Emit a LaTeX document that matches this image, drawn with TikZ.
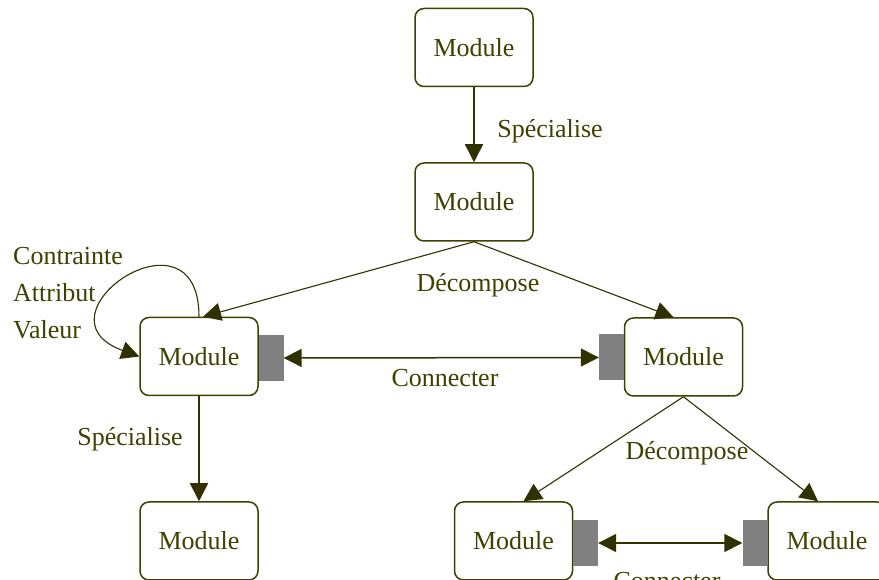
\documentclass[tikz,border=0pt]{standalone}
\usepackage{fontspec}
\setmainfont{Liberation Serif}
\usetikzlibrary{arrows.meta}
\definecolor{olive}{RGB}{64,64,0}
\definecolor{fleche}{RGB}{48,48,0}
\definecolor{port}{RGB}{128,128,128}
\tikzset{
    module/.style={draw=olive, line width=1.5pt, rounded corners=9pt, minimum width=118pt, minimum height=78pt, text=olive, font=\fontsize{26}{31}\selectfont},
    port/.style={fill=port, minimum width=25pt, minimum height=46pt, inner sep=0pt},
    pointe/.tip={Triangle[length=18pt,width=18pt]},
    lien/.style={draw=fleche, line width=1.5pt, -pointe},
    fin/.style={draw=fleche, line width=1.1pt, -pointe},
    etiq/.style={text=olive, font=\fontsize{26}{37}\selectfont, inner sep=0pt}
}
\begin{document}
\begin{tikzpicture}[x=1pt,y=1pt]
            \useasboundingbox (0,0) rectangle (879,580);
            \clip (0,0) rectangle (879,580);

            % 模块
            \node[module] (modA)  at (474,532.5) {Module};
            \node[module] (modB)  at (474,378)   {Module};
            \node[module] (modL)  at (199,223.5) {Module};
            \node[module] (modR)  at (683.5,223) {Module};
            \node[module] (modLB) at (199,39)    {Module};
            \node[module] (modRL) at (513.5,39)  {Module};
            \node[module] (modRR) at (827,39)    {Module};

            % 端口 (灰色)
            \node[port] (portL)  at (271,222)    {};
            \node[port] (portR)  at (611.5,222.5) {};
            \node[port] (portRL) at (585.5,37)   {};
            \node[port] (portRR) at (755,37)     {};

            % 连线
            \draw[lien] (modA.south) -- (modB.north);
            \draw[fin] (modB.south) -- ([xshift=4pt]modL.north);
            \draw[fin] (modB.south) -- ([xshift=-10pt]modR.north);
            \draw[lien] (modL.south) -- (modLB.north);
            \draw[fin] (modR.south) -- ([xshift=10pt]modRL.north);
            \draw[fin] (modR.south) -- ([xshift=-9pt]modRR.north);
            \draw[lien, pointe-pointe] (portL.east) -- (portR.west);
            \draw[lien, pointe-pointe] (portRL.east) -- (portRR.west);
            \draw[fin] (modL.north) to[out=90, in=160, looseness=4.2] (modL.west);

            % 标签
            \node[etiq] (labA) at (550,449) {Spécialise};
            \node[etiq] (labB) at (478,295) {Décompose};
            \node[etiq] (labC) at (445,202) {Connecter};
            \node[etiq] (labD) at (130,141) {Spécialise};
            \node[etiq] (labE) at (687,127) {Décompose};
            \node[etiq] (labF) at (667,-1)  {Connecter};
            \node[etiq, anchor=west, align=left] (labG) at (13,287) {Contrainte\\Attribut\\Valeur};

        \end{tikzpicture}
\end{document}
